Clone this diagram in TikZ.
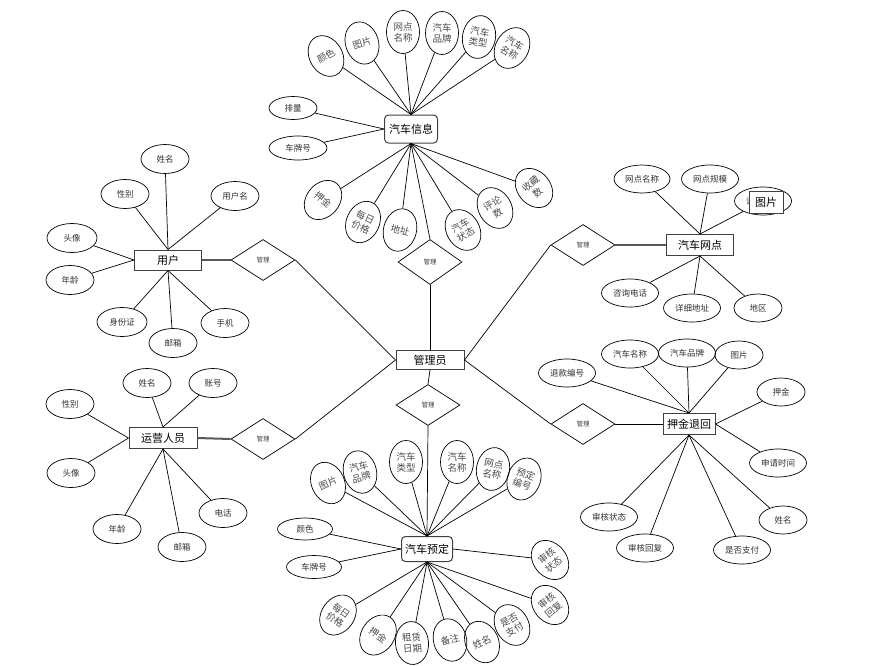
\documentclass[tikz,border=0pt]{standalone}
\usepackage{fontspec}
\newfontfamily\cjk{Noto Sans CJK SC}
\usetikzlibrary{shapes.geometric}
\begin{document}
\begin{tikzpicture}[x=1pt,y=-1pt,
  hel/.style={ellipse,draw,line width=0.7pt,inner sep=0pt,minimum width=48pt,minimum height=29pt,
    font=\cjk\fontsize{8.5}{9}\selectfont,text=black!80},
  rel/.style={ellipse,draw,line width=0.7pt,inner sep=0pt,minimum width=33pt,minimum height=43pt,align=center,
    font=\cjk\fontsize{9.5}{11}\selectfont,text=black!70},
  ent/.style={rectangle,draw=black!75,line width=1pt,inner sep=0pt,fill=white,
    font=\cjk\fontsize{11}{12}\selectfont},
  rent/.style={ent,rounded corners=4pt},
  rel2/.style={diamond,draw,line width=0.7pt,inner sep=0pt,minimum width=64pt,minimum height=41pt,
    font=\cjk\fontsize{6.5}{7}\selectfont,text=black!75},
  conn/.style={line width=0.7pt},
  thick conn/.style={line width=2pt,draw=black!65}
]
\useasboundingbox[fill=white] (0,0) rectangle (884,665);

% ===== 汽车信息 =====
\node[rent,minimum width=53pt,minimum height=28pt] (info) at (411,129) {汽车信息};
\node[rel,rotate=30] (i1) at (326,56) {颜色};
\node[rel,rotate=18] (i2) at (362,43) {图片};
\node[rel] (i3) at (403,32) {网点\\名称};
\node[rel] (i4) at (442,33) {汽车\\品牌};
\node[rel,rotate=-10] (i5) at (479,37) {汽车\\类型};
\node[rel,rotate=-30] (i6) at (512,48) {汽车\\名称};
\node[hel,minimum width=48pt,minimum height=23pt] (i7) at (293,108) {排量};
\node[hel,minimum width=58pt,minimum height=24pt] (i8) at (298,148) {车牌号};
\node[rel,rotate=-40] (i9) at (323,200) {押金};
\node[rel,rotate=-25] (i10) at (363,222) {每日\\价格};
\node[rel,rotate=-15] (i11) at (400,230) {地址};
\node[rel,rotate=30] (i12) at (463,230) {汽车\\状态};
\node[rel,rotate=30] (i13) at (495,208) {评论\\数};
\node[rel,rotate=40] (i14) at (534,188) {收藏\\数};
\foreach \n in {i1,i2,i3,i4,i5,i6} \draw[conn] (\n) -- (info.north);
\foreach \n in {i7,i8} \draw[conn] (\n) -- (info.west);
\foreach \n in {i9,i10,i11,i12,i13,i14} \draw[conn] (\n) -- (info.south);

% ===== 管理员 and diamonds =====
\node[ent,minimum width=68pt,minimum height=19pt] (admin) at (430,360) {管理员};
\node[rel2,minimum height=45pt] (d1) at (430,262) {管理};
\node[rel2] (d2) at (428,405) {管理};
\node[rel2] (d3) at (263,260) {管理};
\node[rel2] (d4) at (263,439) {管理};
\node[rel2] (d5) at (583,245) {管理};
\node[rel2] (d6) at (583,424) {管理};
\draw[conn] (info.south) -- (d1.north);
\draw[conn] (d1.south) -- (admin.north);
\draw[conn] (admin.south) -- (d2.north);
\draw[conn] (d3.east) -- (admin.west);
\draw[conn] (d4.east) -- (admin.west);
\draw[conn] (d5.west) -- (admin.east);
\draw[conn] (d6.west) -- (admin.east);

% ===== 用户 =====
\node[ent,minimum width=67pt,minimum height=20pt] (user) at (168,260) {用户};
\draw[thick conn] (user.east) -- (d3.west);
\node[hel] (u1) at (165,159) {姓名};
\node[hel] (u2) at (125,194) {性别};
\node[hel] (u3) at (235,196) {用户名};
\node[hel,minimum width=50pt] (u4) at (72,238) {头像};
\node[hel] (u5) at (70,280) {年龄};
\node[hel,minimum width=50pt] (u6) at (122,322) {身份证};
\node[hel] (u7) at (173,343) {邮箱};
\node[hel] (u8) at (225,323) {手机};
\foreach \n in {u1,u2,u3} \draw[conn] (\n) -- (user.north);
\foreach \n in {u4,u5} \draw[conn] (\n) -- (user.west);
\foreach \n in {u6,u7,u8} \draw[conn] (\n) -- (user.south);

% ===== 运营人员 =====
\node[ent,minimum width=68pt,minimum height=21pt] (op) at (163,438) {运营人员};
\draw[thick conn] (op.east) -- (d4.west);
\node[hel] (o1) at (147,383) {姓名};
\node[hel] (o2) at (213,383) {账号};
\node[hel] (o3) at (70,404) {性别};
\node[hel] (o4) at (71,473) {头像};
\node[hel] (o5) at (117,529) {年龄};
\node[hel] (o6) at (182,547) {邮箱};
\node[hel] (o7) at (223,513) {电话};
\foreach \n in {o1,o2} \draw[conn] (\n) -- (op.north);
\foreach \n in {o3,o4} \draw[conn] (\n) -- (op.west);
\foreach \n in {o5,o6,o7} \draw[conn] (\n) -- (op.south);

% ===== 汽车网点 =====
\node[ent,minimum width=67pt,minimum height=21pt] (net) at (700,245) {汽车网点};
\draw[thick conn] (d5.east) -- (net.west);
\node[hel,minimum width=56pt,minimum height=28pt] (n1) at (642,179) {网点名称};
\node[hel,minimum width=57pt,minimum height=28pt] (n2) at (710,179) {网点规模};
\node[hel,minimum width=57pt,minimum height=28pt] (n3) at (763,201) {详情图片};
\node[hel,minimum width=57pt,minimum height=28pt] (n4) at (630,293) {咨询电话};
\node[hel,minimum width=57pt,minimum height=28pt] (n5) at (692,308) {详细地址};
\node[hel,minimum width=48pt,minimum height=28pt] (n6) at (758,308) {地区};
\foreach \n in {n1,n2,n3} \draw[conn] (\n) -- (net.north);
\foreach \n in {n4,n5,n6} \draw[conn] (\n) -- (net.south);
\node[ent,minimum width=34pt,minimum height=22pt] (n3b) at (766,202) {图片};

% ===== 押金退回 =====
\node[ent,minimum width=52pt,minimum height=21pt] (dep) at (689,424) {押金退回};
\draw[conn,line width=1pt] (d6.east) -- (dep.west);
\node[hel,minimum width=57pt,minimum height=28pt] (p1) at (567,373) {退款编号};
\node[hel,minimum width=57pt,minimum height=28pt] (p2) at (630,354) {汽车名称};
\node[hel,minimum width=57pt,minimum height=28pt] (p3) at (687,353) {汽车品牌};
\node[hel,minimum width=48pt,minimum height=28pt] (p4) at (739,355) {图片};
\node[hel,minimum width=48pt,minimum height=28pt] (p5) at (781,392) {押金};
\node[hel,minimum width=57pt,minimum height=28pt] (p6) at (778,463) {申请时间};
\node[hel,minimum width=48pt,minimum height=28pt] (p7) at (783,520) {姓名};
\node[hel,minimum width=57pt,minimum height=28pt] (p8) at (742,550) {是否支付};
\node[hel,minimum width=57pt,minimum height=28pt] (p9) at (645,548) {审核回复};
\node[hel,minimum width=57pt,minimum height=28pt] (p10) at (609,517) {审核状态};
\foreach \n in {p1,p2,p3,p4} \draw[conn] (\n) -- (dep.north);
\foreach \n in {p5,p6} \draw[conn] (\n) -- (dep.east);
\foreach \n in {p7,p8,p9,p10} \draw[conn] (\n) -- (dep.south);

% ===== 汽车预定 =====
\node[rent,minimum width=51pt,minimum height=25pt] (order) at (427,549) {汽车预定};
\draw[conn] (d2.south) -- (order.north);
\node[rel,rotate=25] (r1) at (328,483) {图片};
\node[rel,rotate=15] (r2) at (360,472) {汽车\\品牌};
\node[rel] (r3) at (406,462) {汽车\\类型};
\node[rel] (r4) at (457,462) {汽车\\名称};
\node[rel,rotate=-10] (r5) at (493,469) {网点\\名称};
\node[rel,rotate=-20] (r6) at (524,479) {预定\\编号};
\node[hel,minimum width=55pt,minimum height=22pt] (r7) at (305,529) {颜色};
\node[hel,minimum width=55pt,minimum height=23pt] (r8) at (314,567) {车牌号};
\node[rel,rotate=40] (r9) at (550,560) {审核\\状态};
\node[rel,rotate=40] (r10) at (550,605) {审核\\回复};
\node[rel,rotate=30] (r11) at (512,625) {是否\\支付};
\node[rel,rotate=25] (r12) at (482,642) {姓名};
\node[rel,rotate=15] (r13) at (450,640) {备注};
\node[rel,rotate=5] (r14) at (412,643) {租赁\\日期};
\node[rel,rotate=-35] (r15) at (378,635) {押金};
\node[rel,rotate=-35] (r16) at (338,615) {每日\\价格};
\foreach \n in {r1,r2,r3,r4,r5,r6} \draw[conn] (\n) -- (order.north);
\foreach \n in {r7,r8} \draw[conn] (\n) -- (order.west);
\draw[conn] (r9) -- (order.east);
\foreach \n in {r10,r11,r12,r13,r14,r15,r16} \draw[conn] (\n) -- (order.south);
\end{tikzpicture}
\end{document}
